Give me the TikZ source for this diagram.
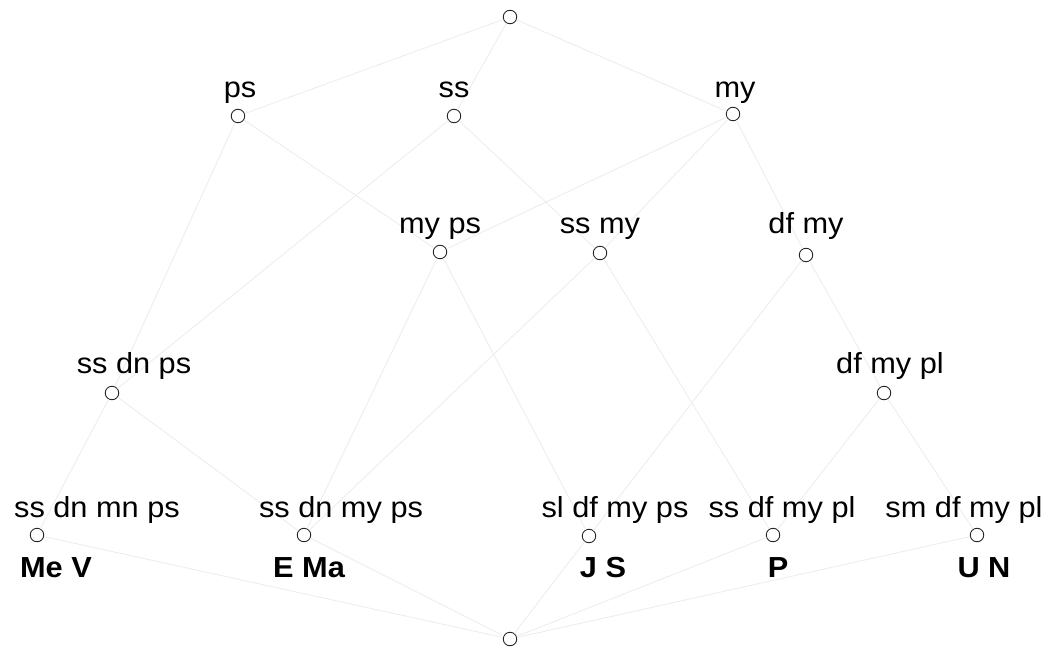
\documentclass[tikz,border=0pt]{standalone}
\usepackage{fontspec}
\setmainfont{Liberation Sans}[FakeStretch=1.06]
\begin{document}
\begin{tikzpicture}[x=1pt,y=-1pt,
  concept/.style={circle,draw=black!85,line width=0.9pt,fill=white,inner sep=0pt,minimum size=13.5pt},
  edge/.style={draw=black!7,line width=0.9pt},
  attr/.style={anchor=base,inner sep=0pt,font=\fontsize{29}{31}\selectfont},
  obj/.style={anchor=base,inner sep=0pt,font=\fontsize{29}{31}\selectfont\bfseries}]
\useasboundingbox (0,0) rectangle (1053,648);
% concepts
\node[concept] (top) at (510,17) {};
\node[concept] (ps) at (238,116) {};
\node[concept] (ss) at (454,116) {};
\node[concept] (my) at (733,114) {};
\node[concept] (myps) at (440,252) {};
\node[concept] (ssmy) at (600,253) {};
\node[concept] (dfmy) at (806,255) {};
\node[concept] (ssdnps) at (112,393) {};
\node[concept] (dfmypl) at (884,393) {};
\node[concept] (ssdnmnps) at (37,535) {};
\node[concept] (ssdnmyps) at (304,535) {};
\node[concept] (sldfmyps) at (589,536) {};
\node[concept] (ssdfmypl) at (773,535) {};
\node[concept] (smdfmypl) at (977,535) {};
\node[concept] (bot) at (510,639) {};
% edges
\draw[edge] (top) -- (ps);
\draw[edge] (top) -- (ss);
\draw[edge] (top) -- (my);
\draw[edge] (ps) -- (myps);
\draw[edge] (ps) -- (ssdnps);
\draw[edge] (ss) -- (ssdnps);
\draw[edge] (ss) -- (ssmy);
\draw[edge] (my) -- (myps);
\draw[edge] (my) -- (ssmy);
\draw[edge] (my) -- (dfmy);
\draw[edge] (myps) -- (ssdnmyps);
\draw[edge] (myps) -- (sldfmyps);
\draw[edge] (ssmy) -- (ssdnmyps);
\draw[edge] (ssmy) -- (ssdfmypl);
\draw[edge] (dfmy) -- (sldfmyps);
\draw[edge] (dfmy) -- (dfmypl);
\draw[edge] (ssdnps) -- (ssdnmnps);
\draw[edge] (ssdnps) -- (ssdnmyps);
\draw[edge] (dfmypl) -- (ssdfmypl);
\draw[edge] (dfmypl) -- (smdfmypl);
\draw[edge] (ssdnmnps) -- (bot);
\draw[edge] (ssdnmyps) -- (bot);
\draw[edge] (sldfmyps) -- (bot);
\draw[edge] (ssdfmypl) -- (bot);
\draw[edge] (smdfmypl) -- (bot);
% attribute labels
\node[attr] (l-ps) at (240,97) {ps};
\node[attr] (l-ss) at (454,97) {ss};
\node[attr] (l-my) at (735,97) {my};
\node[attr] (l-myps) at (440,233) {my ps};
\node[attr] (l-ssmy) at (600,233) {ss my};
\node[attr] (l-dfmy) at (806,233) {df my};
\node[attr] (l-ssdnps) at (134,373) {ss dn ps};
\node[attr] (l-dfmypl) at (890,373) {df my pl};
\node[attr] (l-ssdnmnps) at (97,517) {ss dn mn ps};
\node[attr] (l-ssdnmyps) at (341,517) {ss dn my ps};
\node[attr] (l-sldfmyps) at (615,517) {sl df my ps};
\node[attr] (l-ssdfmypl) at (782,517) {ss df my pl};
\node[attr] (l-smdfmypl) at (964,517) {sm df my pl};
% object labels
\node[obj] (o-meV) at (56,577) {Me V};
\node[obj] (o-ema) at (309,577) {E Ma};
\node[obj] (o-js) at (603,577) {J S};
\node[obj] (o-p) at (778,577) {P};
\node[obj] (o-un) at (984,577) {U N};
\end{tikzpicture}
\end{document}
